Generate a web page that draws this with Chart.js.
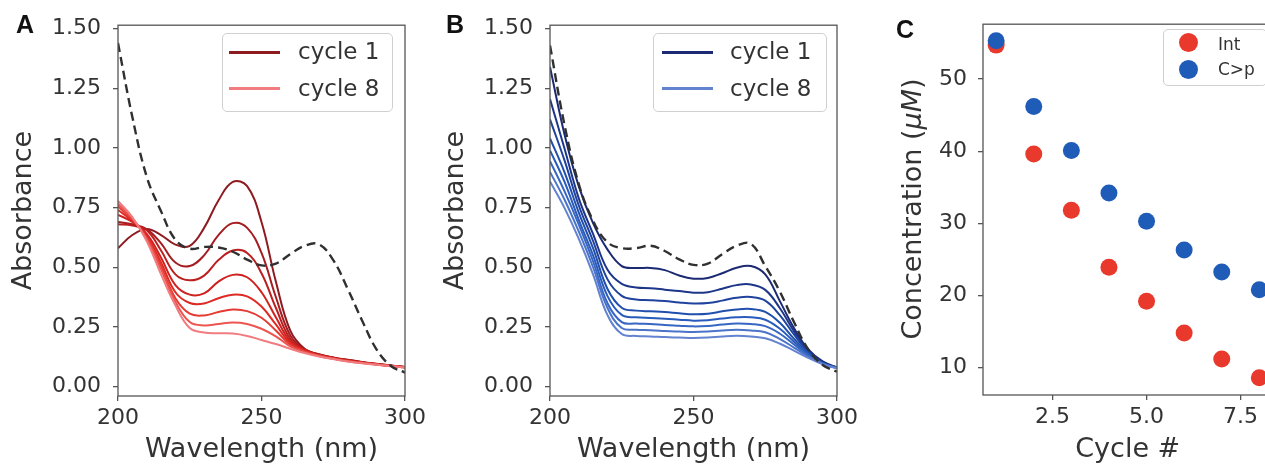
<!DOCTYPE html>
<html><head><meta charset="utf-8">
<script src="https://cdn.jsdelivr.net/npm/chart.js@4.4.1/dist/chart.umd.min.js"></script>
<style>
html,body{margin:0;padding:0;background:#fff;overflow:hidden;width:1265px;height:466px;}
#wrap{position:relative;width:1265px;height:466px;overflow:hidden;background:#fff;}
canvas{position:absolute;top:0;}
.lg{position:absolute;border:1px solid #d0d0d0;border-radius:5px;background:rgba(255,255,255,0.85);box-sizing:border-box;}
.ln{position:absolute;height:3px;}
.dot{position:absolute;width:19px;height:19px;border-radius:50%;}
.tx{position:absolute;font-family:'DejaVu Sans';color:#333;white-space:nowrap;line-height:1;}
.pl{position:absolute;font-family:'Liberation Sans',Arial,sans-serif;font-weight:bold;font-size:25px;line-height:1;color:#111;}
.ytl{position:absolute;font-family:'DejaVu Sans';font-size:27px;color:#333;line-height:1;white-space:nowrap;transform:translate(-50%,-50%) rotate(-90deg);}
</style></head>
<body><div id="wrap">
<canvas id="cA" width="450" height="466" style="left:0px"></canvas>
<canvas id="cB" width="450" height="466" style="left:432px"></canvas>
<canvas id="cC" width="400" height="466" style="left:880px"></canvas>

<div class="pl" style="left:16px;top:12px">A</div>
<div class="pl" style="left:446px;top:12px">B</div>
<div class="pl" style="left:896px;top:17px">C</div>

<div class="ytl" style="left:911px;top:209px">Concentration (<i>μM</i>)</div>

<div class="lg" style="left:222px;top:33px;width:171px;height:79px"></div>
<div class="ln" id="lnA1" style="left:229px;top:51px;width:51px"></div>
<div class="ln" id="lnA8" style="left:229px;top:87px;width:51px"></div>
<div class="tx" style="left:298px;top:40px;font-size:23px">cycle 1</div>
<div class="tx" style="left:298px;top:77px;font-size:23px">cycle 8</div>

<div class="lg" style="left:653px;top:33px;width:174px;height:79px"></div>
<div class="ln" id="lnB1" style="left:662px;top:51px;width:51px"></div>
<div class="ln" id="lnB8" style="left:662px;top:87px;width:51px"></div>
<div class="tx" style="left:730px;top:40px;font-size:23px">cycle 1</div>
<div class="tx" style="left:730px;top:77px;font-size:23px">cycle 8</div>

<div class="lg" style="left:1163px;top:29px;width:104px;height:57px"></div>
<div class="dot" id="dotInt" style="left:1179px;top:33px"></div>
<div class="dot" id="dotCp" style="left:1179px;top:60px"></div>
<div class="tx" style="left:1218px;top:36px;font-size:17px">Int</div>
<div class="tx" style="left:1218px;top:61px;font-size:17px">C&gt;p</div>
</div>
<script>
// ---------- data ----------
const wavelengths = [200,205,210,215,220,225,230,235,240,245,250,255,260,265,270,275,280,285,290,295,300];

// Panel A (red)
const redCycle1 = [0.58,0.635,0.66,0.635,0.595,0.59,0.665,0.78,0.858,0.84,0.69,0.44,0.235,0.158,0.135,0.122,0.112,0.103,0.095,0.088,0.082];
const redCycle2 = [0.69,0.68,0.66,0.60,0.52,0.505,0.55,0.635,0.685,0.665,0.56,0.375,0.215,0.156,0.134,0.121,0.111,0.102,0.094,0.088,0.082];
const redCycle3 = [0.68,0.675,0.655,0.57,0.47,0.445,0.465,0.53,0.57,0.56,0.475,0.33,0.20,0.154,0.133,0.12,0.11,0.101,0.094,0.087,0.082];
const redCycle4 = [0.72,0.69,0.64,0.54,0.425,0.385,0.39,0.44,0.468,0.458,0.395,0.29,0.19,0.152,0.132,0.119,0.109,0.10,0.093,0.087,0.081];
const redCycle5 = [0.74,0.695,0.632,0.52,0.395,0.35,0.348,0.37,0.385,0.378,0.335,0.26,0.182,0.15,0.131,0.118,0.108,0.10,0.093,0.086,0.081];
const redCycle6 = [0.755,0.70,0.625,0.505,0.37,0.305,0.298,0.312,0.323,0.316,0.288,0.235,0.175,0.147,0.13,0.117,0.107,0.099,0.092,0.086,0.08];
const redCycle7 = [0.765,0.705,0.618,0.49,0.355,0.27,0.256,0.262,0.268,0.262,0.242,0.21,0.168,0.144,0.128,0.116,0.106,0.098,0.092,0.086,0.08];
const redCycle8 = [0.778,0.71,0.61,0.47,0.34,0.245,0.226,0.223,0.222,0.212,0.195,0.178,0.158,0.14,0.126,0.115,0.105,0.097,0.091,0.085,0.08];
const refA = [1.44,1.13,0.88,0.735,0.615,0.578,0.585,0.583,0.565,0.532,0.508,0.515,0.555,0.59,0.596,0.53,0.41,0.278,0.157,0.087,0.058];

// Panel B (blue)
const blueCycle1 = [1.34,1.06,0.84,0.685,0.575,0.505,0.497,0.497,0.488,0.465,0.452,0.455,0.475,0.498,0.505,0.47,0.36,0.245,0.155,0.105,0.08];
const blueCycle2 = [1.205,1.0,0.79,0.64,0.49,0.43,0.415,0.412,0.406,0.40,0.393,0.395,0.41,0.425,0.428,0.405,0.33,0.232,0.15,0.10,0.08];
const blueCycle3 = [1.12,0.95,0.76,0.61,0.45,0.38,0.365,0.362,0.358,0.352,0.348,0.35,0.36,0.372,0.375,0.36,0.30,0.218,0.145,0.099,0.079];
const blueCycle4 = [1.04,0.90,0.73,0.58,0.41,0.33,0.318,0.315,0.312,0.307,0.303,0.305,0.315,0.323,0.325,0.313,0.268,0.20,0.14,0.098,0.079];
const blueCycle5 = [0.99,0.86,0.70,0.55,0.38,0.30,0.29,0.287,0.284,0.28,0.276,0.278,0.285,0.29,0.29,0.28,0.243,0.188,0.135,0.097,0.078];
const blueCycle6 = [0.945,0.82,0.68,0.525,0.35,0.27,0.264,0.262,0.258,0.255,0.252,0.254,0.26,0.264,0.262,0.253,0.222,0.176,0.13,0.096,0.078];
const blueCycle7 = [0.90,0.785,0.65,0.50,0.33,0.245,0.238,0.236,0.233,0.23,0.228,0.23,0.235,0.238,0.235,0.227,0.20,0.163,0.125,0.095,0.077];
const blueCycle8 = [0.86,0.75,0.62,0.47,0.30,0.22,0.212,0.21,0.207,0.205,0.203,0.205,0.21,0.213,0.21,0.202,0.18,0.15,0.12,0.093,0.076];
const refB = [1.43,1.10,0.85,0.695,0.605,0.58,0.58,0.59,0.568,0.533,0.51,0.515,0.555,0.59,0.598,0.505,0.40,0.27,0.155,0.09,0.062];

// Panel C
const cycles = [1,2,3,4,5,6,7,8];
const intConc = [54.7,39.6,31.8,23.9,19.2,14.8,11.2,8.6];
const cpConc  = [55.3,46.2,40.1,34.2,30.3,26.3,23.25,20.8];

// ticks
const specXTicks = [200,250,300];
const specYTicks = [0,0.25,0.5,0.75,1.0,1.25,1.5];
const specYTickLabels = ['0.00','0.25','0.50','0.75','1.00','1.25','1.50'];
const cXTicks = [2.5,5.0,7.5];
const cXTickLabels = ['2.5','5.0','7.5'];
const cYTicks = [10,20,30,40,50];

const redColors  = ['#8e1b1f','#a51d20','#bb1f20','#cf2120','#de2a24','#e63b33','#ec5550','#f07c80'];
const blueColors = ['#1b2a72','#1d3689','#1f439d','#214fae','#285bbb','#3766c3','#4a73c9','#6383d0'];

// ---------- helpers ----------
const FONT = 'DejaVu Sans';
const TXT = '#333';
const AX = '#555';
const TENSION = 0.4;
const toXY = (xs, ys) => xs.map((x, i) => ({x: x, y: ys[i]}));

const framePlugin = {
  id: 'frame',
  afterDatasetsDraw(chart) {
    const {ctx, chartArea: a} = chart;
    ctx.save();
    ctx.strokeStyle = AX;
    ctx.lineWidth = 1.3;
    ctx.strokeRect(a.left, a.top, a.right - a.left, a.bottom - a.top);
    ctx.restore();
  }
};

function axisCommon(extra) {
  return Object.assign({
    type: 'linear',
    border: {display: false},
    grid: {drawOnChartArea: false, drawTicks: true, tickLength: 5, color: AX, lineWidth: 1.3}
  }, extra);
}

function spectrum(id, curves, colors, ref) {
  const datasets = [{
    label: 'ref', data: toXY(wavelengths, ref), borderColor: '#303030', borderWidth: 2.4,
    borderDash: [9, 5], pointRadius: 0, tension: TENSION, order: 0, fill: false
  }];
  curves.forEach((c, i) => datasets.push({
    label: 'cycle ' + (i + 1), data: toXY(wavelengths, c), borderColor: colors[i], borderWidth: 2,
    pointRadius: 0, tension: TENSION, order: 8 - i, fill: false
  }));
  return new Chart(document.getElementById(id), {
    type: 'line',
    data: {datasets},
    plugins: [framePlugin],
    options: {
      responsive: false, animation: false,
      layout: {padding: {top: 20, right: 45, bottom: 0, left: 0}, autoPadding: false},
      plugins: {legend: {display: false}, tooltip: {enabled: false}},
      scales: {
        x: axisCommon({
          min: 200, max: 300,
          afterFit: s => { s.height = 70; },
          afterBuildTicks: s => { s.ticks = specXTicks.map(v => ({value: v})); },
          ticks: {font: {family: FONT, size: 22}, color: TXT, padding: 4, maxRotation: 0, autoSkip: false,
                  callback: v => String(v)},
          title: {display: true, text: 'Wavelength (nm)', font: {family: FONT, size: 27}, color: TXT,
                  padding: {top: 0, bottom: 0}}
        }),
        y: axisCommon({
          min: -0.04, max: 1.515,
          afterFit: s => { s.width = 118; },
          afterBuildTicks: s => { s.ticks = specYTicks.map(v => ({value: v})); },
          ticks: {font: {family: FONT, size: 22}, color: TXT, padding: 12, autoSkip: false,
                  callback: v => specYTickLabels[specYTicks.indexOf(v)]},
          title: {display: true, text: 'Absorbance', font: {family: FONT, size: 27}, color: TXT,
                  padding: {top: 8, bottom: 0}}
        })
      }
    }
  });
}

spectrum('cA', [redCycle1,redCycle2,redCycle3,redCycle4,redCycle5,redCycle6,redCycle7,redCycle8], redColors, refA);
spectrum('cB', [blueCycle1,blueCycle2,blueCycle3,blueCycle4,blueCycle5,blueCycle6,blueCycle7,blueCycle8], blueColors, refB);

const intColor = '#e8392c', cpColor = '#1f5cb8';
new Chart(document.getElementById('cC'), {
  type: 'scatter',
  data: {datasets: [
    {label: 'C>p', data: toXY(cycles, cpConc), backgroundColor: cpColor, borderColor: cpColor, borderWidth: 0, pointRadius: 8.5, order: 0},
    {label: 'Int', data: toXY(cycles, intConc), backgroundColor: intColor, borderColor: intColor, borderWidth: 0, pointRadius: 8.5, order: 1}
  ]},
  plugins: [framePlugin],
  options: {
    responsive: false, animation: false,
    layout: {padding: {top: 20, right: 7.5, bottom: 0, left: 0}, autoPadding: false},
    plugins: {legend: {display: false}, tooltip: {enabled: false}},
    scales: {
      x: axisCommon({
        min: 0.65, max: 8.35,
        afterFit: s => { s.height = 71; },
        afterBuildTicks: s => { s.ticks = cXTicks.map(v => ({value: v})); },
        ticks: {font: {family: FONT, size: 22}, color: TXT, padding: 4, maxRotation: 0, autoSkip: false,
                callback: v => cXTickLabels[cXTicks.indexOf(v)]},
        title: {display: true, text: 'Cycle #', font: {family: FONT, size: 27}, color: TXT, padding: {top: 0, bottom: 0}}
      }),
      y: axisCommon({
        min: 6.2, max: 57.6,
        afterFit: s => { s.width = 103; },
        afterBuildTicks: s => { s.ticks = cYTicks.map(v => ({value: v})); },
        ticks: {font: {family: FONT, size: 22}, color: TXT, padding: 11, autoSkip: false, callback: v => String(v)},
        title: {display: false, text: 'Concentration (μM)'}
      })
    }
  }
});

// legend swatches use the same colours as the series
document.getElementById('lnA1').style.background = redColors[0];
document.getElementById('lnA8').style.background = redColors[7];
document.getElementById('lnB1').style.background = blueColors[0];
document.getElementById('lnB8').style.background = blueColors[7];
document.getElementById('dotInt').style.background = intColor;
document.getElementById('dotCp').style.background = cpColor;
</script>
</body></html>
